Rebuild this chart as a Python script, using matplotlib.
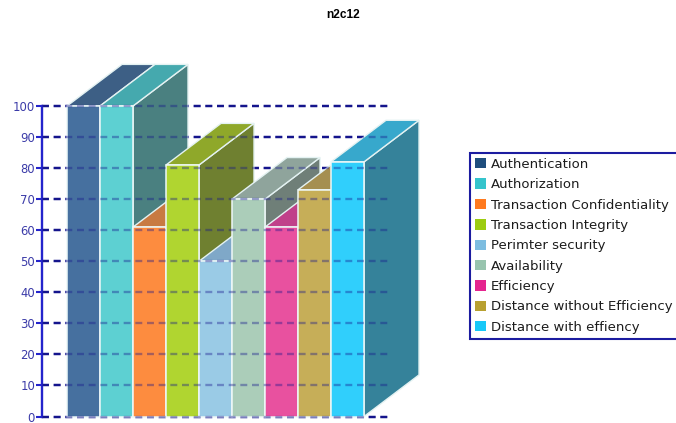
import matplotlib
matplotlib.use('Agg')
import matplotlib.pyplot as plt
from matplotlib.patches import Patch, Polygon

names = ['Authentication', 'Authorization', 'Transaction Confidentiality',
         'Transaction Integrity', 'Perimter security', 'Availability',
         'Efficiency', 'Distance without Efficiency', 'Distance with effiency']
values = [100, 100, 61, 81, 50, 70, 61, 73, 82]
front_colors = ['#46709f', '#5dd0d2', '#fd8c3f', '#b0d530', '#9acbe6',
                '#abcdb9', '#e8519f', '#c6ae58', '#30cffc']
top_colors = ['#3d5f85', '#45a9ae', '#c87a42', '#8fa82a', '#7fa8c8',
              '#8fa49c', '#c0408a', '#a58f50', '#37a8cc']
side_colors = ['#3a5a7a', '#4a8080', '#a8683a', '#6f8030', '#6a8ca6',
               '#6f7f78', '#a03a78', '#8a7a44', '#35829a']
legend_colors = ['#1f4e7d', '#35c4cc', '#ff7a1f', '#9ccc10', '#7dbde0',
                 '#98c4ae', '#e5258f', '#b8a030', '#18c8f8']
ticks = list(range(0, 101, 10))

# extrusion of each bar, in data units
depth_x = 1.667
depth_y = 13.4
grid_color = '#14148c'

plt.rcParams['lines.scale_dashes'] = False

fig = plt.figure(figsize=(6.76, 4.23), dpi=100)
ax = fig.add_axes([42 / 676, 6.5 / 423, 348 / 676, 310.5 / 423])
ax.set_xlim(-25 / 33, 323 / 33)
ax.set_ylim(0, 100)

for side in ['top', 'right', 'bottom']:
    ax.spines[side].set_visible(False)
ax.spines['left'].set_color('#2424cc')
ax.spines['left'].set_linewidth(1.7)
ax.set_xticks([])
ax.set_yticks(ticks)
ax.tick_params(axis='y', length=4.5, width=1.5, color='#2424cc', pad=0.5,
               labelsize=8.4, labelcolor='#3b3ba8')

# dashed grid behind the bars
for t in ticks:
    ax.plot([-25 / 33, 323 / 33], [t, t], color=grid_color, lw=1.7,
            linestyle=(0, (5, 3.4)), zorder=1, clip_on=False)

# bars painted left to right so each one hides the side of the last
for i, v in enumerate(values):
    z = 2 + i
    x0, x1 = i, i + 1
    front = [(x0, 0), (x1, 0), (x1, v), (x0, v)]
    top = [(x0, v), (x1, v), (x1 + depth_x, v + depth_y), (x0 + depth_x, v + depth_y)]
    side = [(x1, 0), (x1 + depth_x, depth_y), (x1 + depth_x, v + depth_y), (x1, v)]
    ax.add_patch(Polygon(side, closed=True, fc=side_colors[i], ec='#e4f2f2', lw=1,
                         zorder=z, clip_on=False))
    ax.add_patch(Polygon(top, closed=True, fc=top_colors[i], ec='#e4f2f2', lw=1,
                         zorder=z, clip_on=False))
    ax.add_patch(Polygon(front, closed=True, fc=front_colors[i], ec='#eef8f8', lw=1.1,
                         zorder=z, clip_on=False))

# the same grid shows faintly through the bars
for t in ticks:
    ax.plot([-25 / 33, 323 / 33], [t, t], color=grid_color, lw=1.7, alpha=0.38,
            linestyle=(0, (5, 3.4)), zorder=20, clip_on=False)

fig.text(343 / 676, 1 - 15 / 423, 'n2c12', ha='center', va='center',
         fontsize=8.6, fontweight='bold', family='Liberation Sans')

handles = [Patch(fc=c, ec='none', label=n) for c, n in zip(legend_colors, names)]
leg = ax.legend(handles=handles, loc='upper left',
                bbox_to_anchor=(470 / 676, 1 - 153 / 423),
                bbox_transform=fig.transFigure, borderaxespad=0, fancybox=False,
                framealpha=1, edgecolor='#1c1ca0', fontsize=9.5, handlelength=0.83,
                handleheight=0.83, handletextpad=0.42, labelspacing=0.56,
                borderpad=0.36, labelcolor='#1c1c1c')
leg.get_frame().set_linewidth(1.5)
leg.set_zorder(30)

fig.savefig('out.png', dpi=100)
